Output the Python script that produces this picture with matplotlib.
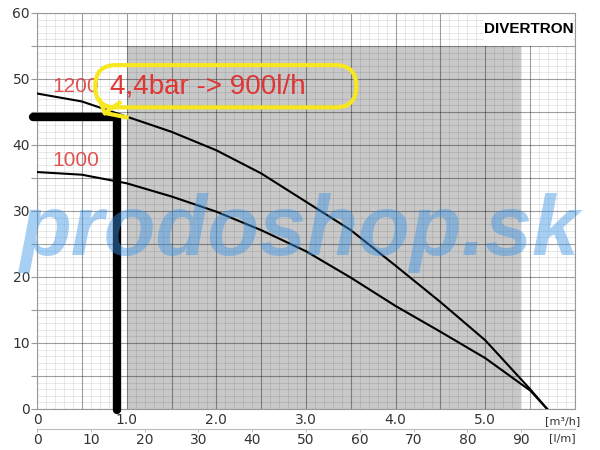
import numpy as np
import matplotlib.pyplot as plt
from matplotlib.patches import Rectangle, FancyBboxPatch

# pump curves (flow m3/h, head m)
flow = [0, 0.5, 1.0, 1.5, 2.0, 2.5, 3.0, 3.5, 4.0, 4.5, 5.0, 5.5, 5.69]
head_1200 = [47.8, 46.6, 44.3, 42.0, 39.2, 35.7, 31.4, 27.1, 21.7, 16.2, 10.4, 3.0, 0]
head_1000 = [35.9, 35.5, 34.2, 32.2, 29.9, 27.1, 23.9, 19.9, 15.6, 11.7, 7.7, 2.8, 0]

# operating point marked by hand
op_flow = 0.89
op_head = 44.2

m3h_labels = ['0', '', '1.0', '', '2.0', '', '3.0', '', '4.0', '', '5.0', '', '']
lmin_ticks = [0, 10, 20, 30, 40, 50, 60, 70, 80, 90]

red = '#e03535'
yellow = '#f6e71e'

fig = plt.figure(figsize=(6, 4.5), dpi=100)
ax = fig.add_axes([37/600, 1-409/450, 538/600, 396/450])
ax.set_xlim(0, 5.98)
ax.set_ylim(0, 60)

# gray working range
ax.add_patch(Rectangle((1.0, 0), 4.4, 55, fc='#c8c8c8', ec='none', zorder=1))

ax.set_xticks(np.arange(0, 6.01, 0.5))
ax.set_xticklabels(m3h_labels)
ax.set_xticks(np.arange(0, 6.0, 0.1), minor=True)
ax.set_yticks(np.arange(0, 61, 5))
ax.set_yticklabels([str(v) if v % 10 == 0 else '' for v in range(0, 61, 5)])
ax.set_yticks(np.arange(0, 61, 1), minor=True)
ax.grid(which='major', color='black', alpha=0.38, lw=0.8)
ax.grid(which='minor', color='black', alpha=0.1, lw=0.6)
ax.tick_params(axis='x', which='major', length=0, pad=3, labelsize=10, colors='#333')
ax.tick_params(axis='y', which='major', length=4, pad=1, labelsize=10, colors='#333', color='#999')
ax.tick_params(which='minor', length=0)
for s in ax.spines.values():
    s.set_color('#999')

# second flow scale in l/min
sec = ax.secondary_xaxis(-0.05, functions=(lambda q: q*1000/60, lambda l: l*60/1000))
sec.set_xticks(lmin_ticks)
sec.spines['bottom'].set_color('#bbb')
sec.tick_params(length=2, pad=1, labelsize=10, colors='#333', color='#bbb')

fig.text(563/600, 1-421/450, '[m³/h]', fontsize=8, ha='center', va='center', color='#333')
fig.text(562/600, 1-438/450, '[l/m]', fontsize=8, ha='center', va='center', color='#333')

ax.plot(flow, head_1200, color='black', lw=1.5, zorder=3)
ax.plot(flow, head_1000, color='black', lw=1.5, zorder=3)

ax.text(0.17, 48.9, '1200', color=red, fontsize=15, family='Liberation Sans', ha='left', va='center', alpha=0.85)
ax.text(0.17, 37.7, '1000', color=red, fontsize=15, family='Liberation Sans', ha='left', va='center', alpha=0.85)

# brand box
ax.add_patch(Rectangle((4.98, 55), 1.0, 5, fc='white', ec='none', zorder=2.5))
ax.text(5.48, 57.6, 'DIVERTRON', fontsize=11, fontweight='bold',
        family='Liberation Sans', ha='center', va='center', zorder=3)

# hand drawn marker lines
ax.plot([-0.04, op_flow], [op_head, op_head], color='black', lw=6, solid_capstyle='round', clip_on=False, zorder=4)
ax.plot([op_flow, op_flow], [op_head, -0.2], color='black', lw=6, solid_capstyle='round', clip_on=False, zorder=4)

# yellow highlight
ax.add_patch(FancyBboxPatch((0.65, 45.7), 2.91, 6.4, boxstyle='round,pad=0,rounding_size=0.23',
                            mutation_aspect=13.6, fc='none', ec=yellow, lw=3, zorder=5))
ax.plot([0.70, 0.756, 1.0], [46.8, 44.85, 44.2], color=yellow, lw=3, zorder=5)
ax.plot([0.756, 0.92], [44.85, 46.4], color=yellow, lw=3, zorder=5)
ax.text(0.81, 48.8, '4,4bar -> 900l/h', color=red, fontsize=20, family='Liberation Sans',
        ha='left', va='center', zorder=6)

# watermark
fig.text(0.5, 1-255/450, 'prodoshop.sk', fontsize=61, fontweight='bold', fontstyle='italic',
         family='Liberation Sans', color='#3d94e6', alpha=0.45, ha='center', va='baseline', zorder=10)

fig.savefig('out.png', dpi=100)
